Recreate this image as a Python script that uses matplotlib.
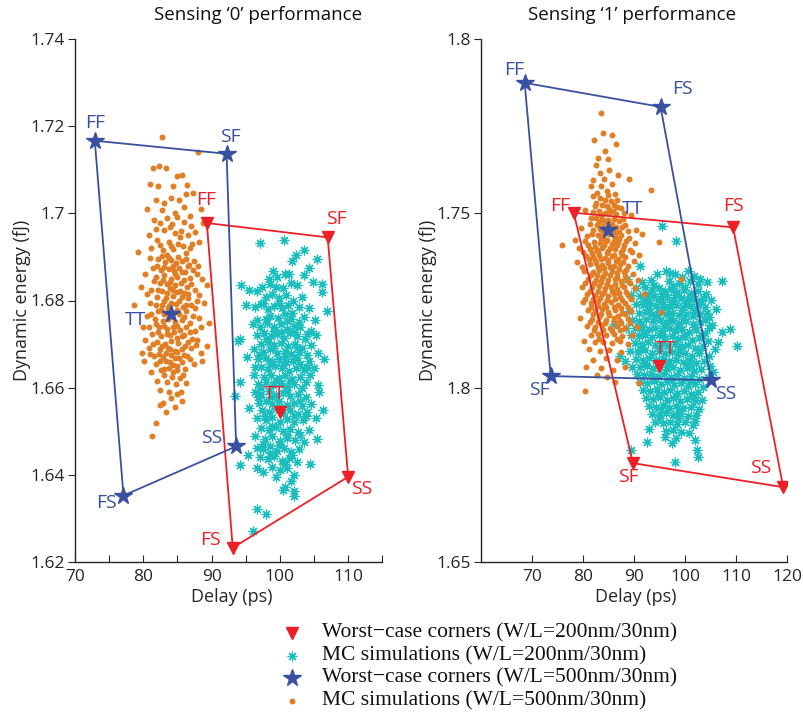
import matplotlib
matplotlib.use("Agg")
import matplotlib.pyplot as plt
from matplotlib.lines import Line2D
import numpy as np

plt.rcParams['font.family'] = ['Open Sans', 'DejaVu Sans']

# ---------------- data ----------------
# Sensing '0' : worst-case corners
s0_corner_names = ['FF', 'SF', 'SS', 'FS']
s0_500_corner_delay = [72.9, 92.2, 93.6, 77.1]
s0_500_corner_energy = [1.7167, 1.7137, 1.6465, 1.6352]
s0_500_tt = (84.0, 1.6770)
s0_200_corner_delay = [89.3, 107.0, 110.0, 93.1]
s0_200_corner_energy = [1.6978, 1.6945, 1.6395, 1.6232]
s0_200_tt = (100.0, 1.6545)

# Sensing '1' : worst-case corners
s1_corner_names = ['FF', 'FS', 'SS', 'SF']
s1_500_corner_delay = [68.6, 95.2, 105.1, 73.7]
s1_500_corner_energy = [1.7875, 1.7806, 1.7021, 1.7033]
s1_500_tt = (84.9, 1.7453)
s1_200_corner_delay = [78.2, 109.4, 119.2, 89.8]
s1_200_corner_energy = [1.7502, 1.7460, 1.6714, 1.6783]
s1_200_tt = (94.8, 1.7062)

# MC simulations, Sensing '0', W/L=500nm/30nm (delay ps, energy fJ)
mc_s0_500 = [
 (82.7,1.7175),(88.0,1.7140),(81.4,1.7105),(82.3,1.7110),(83.3,1.7105),(85.6,1.7088),(84.9,1.7085),(81.0,1.7067),
 (84.4,1.7062),(82.2,1.7063),(86.4,1.7065),(86.2,1.7044),(81.9,1.7030),(84.0,1.7035),(80.5,1.7010),(83.1,1.7023),
 (85.2,1.7030),(87.3,1.7048),(82.8,1.7007),(86.0,1.7015),(88.4,1.7010),(84.6,1.7002),
 (81.6,1.6985),(82.4,1.6978),(83.4,1.6990),(84.2,1.6975),(85.0,1.6992),(85.9,1.6980),(86.8,1.6995),(88.7,1.6978),
 (89.1,1.6985),(83.0,1.6962),(84.7,1.6955),(80.8,1.6950),(82.0,1.6940),(83.8,1.6935),(85.4,1.6945),(86.5,1.6950),
 (87.6,1.6958),(81.2,1.6920),(82.9,1.6915),(84.3,1.6918),(85.8,1.6925),(87.1,1.6930),(83.5,1.6905),(86.2,1.6908),
 (79.2,1.6912),
 (82.1,1.6895),(83.2,1.6888),(84.0,1.6892),(84.8,1.6885),(85.6,1.6890),(86.7,1.6882),(88.0,1.6880),(81.4,1.6875),
 (82.6,1.6870),(83.7,1.6872),(84.5,1.6868),(85.3,1.6875),(86.1,1.6865),(87.3,1.6870),(80.3,1.6860),(81.9,1.6855),
 (83.0,1.6858),(84.1,1.6850),(85.0,1.6855),(85.9,1.6848),(86.9,1.6852),(88.6,1.6850),(82.4,1.6840),(83.5,1.6838),
 (84.6,1.6835),(85.5,1.6840),(86.4,1.6832),(81.2,1.6825),(82.8,1.6822),(83.9,1.6828),(84.9,1.6820),(86.0,1.6818),
 (87.5,1.6825),(79.6,1.6830),(82.0,1.6808),(83.3,1.6805),(84.3,1.6810),(85.3,1.6800),(86.6,1.6805),(81.0,1.6795),
 (82.7,1.6790),(83.8,1.6788),(84.8,1.6792),(85.8,1.6785),(87.0,1.6790),(88.9,1.6795),(82.2,1.6775),(83.1,1.6770),
 (84.2,1.6772),(85.2,1.6768),(86.3,1.6775),(80.6,1.6765),(81.7,1.6758),(82.9,1.6752),(83.6,1.6758),(84.7,1.6750),
 (85.7,1.6755),(86.8,1.6748),(88.1,1.6760),(82.3,1.6738),(83.4,1.6735),(84.4,1.6740),(85.4,1.6732),(86.2,1.6738),
 (87.6,1.6730),(81.3,1.6722),(82.6,1.6718),(83.9,1.6720),(84.9,1.6715),(86.0,1.6720),(80.2,1.6710),(82.0,1.6705),
 (83.2,1.6700),(84.1,1.6708),(85.1,1.6702),(86.5,1.6705),(87.9,1.6710),(89.3,1.6695),(78.7,1.6790),(89.4,1.6835),
 (80.8,1.6690),(82.5,1.6688),(83.6,1.6692),(84.6,1.6685),(85.6,1.6688),(87.0,1.6690),(88.5,1.6680),(81.6,1.6672),
 (82.9,1.6670),(84.0,1.6675),(85.2,1.6668),(86.4,1.6672),(80.1,1.6660),(81.9,1.6655),(83.3,1.6660),(84.4,1.6652),
 (85.7,1.6658),(87.4,1.6655),(82.6,1.6640),(83.8,1.6645),(84.9,1.6640),(86.1,1.6642),(81.2,1.6635),(83.0,1.6628),
 (84.2,1.6625),(85.4,1.6622),(82.0,1.6615),(83.5,1.6612),(84.8,1.6608),(86.3,1.6610),
 (82.4,1.6595),(83.7,1.6590),(85.0,1.6585),(84.1,1.6575),(82.9,1.6565),(85.6,1.6568),(84.6,1.6555),(83.3,1.6545),
 (82.5,1.6560),(81.9,1.6518),(81.3,1.6488),(85.5,1.6590),
 (81.8,1.6965),(83.9,1.6968),(85.5,1.6960),(87.0,1.6972),(82.5,1.6928),(84.0,1.6925),(85.1,1.6930),(86.8,1.6920),
 (88.2,1.6935),(81.0,1.6898),(82.7,1.6902),(83.7,1.6898),(85.1,1.6900),(86.3,1.6895),(87.4,1.6890),(82.0,1.6880),
 (83.1,1.6878),(84.3,1.6880),(85.6,1.6865),(86.5,1.6880),(87.9,1.6862),(81.5,1.6845),(82.9,1.6848),(83.9,1.6842),
 (84.7,1.6862),(85.4,1.6822),(87.0,1.6838),(88.1,1.6812),(80.6,1.6815),(82.1,1.6825),(83.4,1.6818),(84.4,1.6825),
 (86.6,1.6815),(87.8,1.6800),(81.8,1.6790),(83.0,1.6798),(84.1,1.6795),(85.6,1.6808),(86.2,1.6790),(87.6,1.6782),
 (81.2,1.6770),(82.6,1.6778),(83.6,1.6782),(84.9,1.6778),(86.0,1.6762),(87.3,1.6765),(81.9,1.6745),(83.0,1.6742),
 (84.0,1.6762),(85.0,1.6742),(86.9,1.6728),(88.4,1.6740),(80.9,1.6740),(82.2,1.6728),(83.5,1.6722),(84.5,1.6728),
 (85.6,1.6718),(87.1,1.6712),(81.4,1.6700),(82.7,1.6695),(83.9,1.6688),(85.0,1.6682),(86.1,1.6695),(87.7,1.6698),
 (82.3,1.6678),(83.3,1.6680),(84.7,1.6668),(85.9,1.6675),(81.0,1.6678),(86.9,1.6665),(82.4,1.6660),(83.9,1.6658),
 (85.0,1.6650),(83.0,1.6642),(84.3,1.6635),(85.8,1.6630),(88.6,1.6660),(79.8,1.6680),(89.6,1.6748),(80.0,1.6738),
]

# MC simulations, Sensing '0', W/L=200nm/30nm
mc_s0_200 = [
 (97.1,1.6932),(100.6,1.6940),(102.3,1.6905),(103.5,1.6915),(101.8,1.6890),(104.2,1.6875),(105.4,1.6895),(106.1,1.6838),
 (106.2,1.6820),(103.6,1.6858),(99.0,1.6868),(99.6,1.6855),(98.4,1.6850),(100.8,1.6860),(104.8,1.6842),(101.3,1.6862),
 (94.3,1.6835),(95.5,1.6825),(96.6,1.6822),(97.4,1.6830),(98.6,1.6838),(99.5,1.6832),(100.4,1.6828),(101.6,1.6840),
 (102.5,1.6835),(97.9,1.6808),(98.9,1.6815),(99.8,1.6805),(100.9,1.6812),(101.9,1.6800),(103.3,1.6808),(95.0,1.6790),
 (96.3,1.6785),(97.3,1.6792),(98.2,1.6780),(99.2,1.6788),(100.3,1.6782),(101.2,1.6790),(102.8,1.6785),(104.3,1.6782),
 (106.9,1.6776),(98.6,1.6765),(99.7,1.6760),(100.7,1.6768),(101.7,1.6758),(103.6,1.6762),(96.6,1.6755),(105.2,1.6755),
 (94.1,1.6712),(93.9,1.6707),(96.0,1.6745),(97.1,1.6740),(98.1,1.6748),(99.1,1.6738),(100.1,1.6745),(101.0,1.6735),
 (102.0,1.6742),(103.0,1.6738),(104.5,1.6730),(96.7,1.6720),(97.7,1.6725),(98.7,1.6718),(99.6,1.6722),(100.6,1.6715),
 (101.5,1.6725),(102.5,1.6718),(103.7,1.6712),(105.3,1.6720),(97.2,1.6700),(98.2,1.6705),(99.2,1.6698),(100.2,1.6702),
 (101.2,1.6695),(102.2,1.6700),(103.2,1.6690),(104.6,1.6698),(96.2,1.6688),(97.6,1.6682),(98.6,1.6688),(99.6,1.6680),
 (100.7,1.6685),(101.7,1.6678),(102.8,1.6682),(104.0,1.6675),(105.6,1.6680),(95.2,1.6670),(96.8,1.6665),(97.9,1.6668),
 (98.9,1.6660),(99.9,1.6665),(100.9,1.6658),(101.9,1.6662),(103.0,1.6655),(104.3,1.6660),(106.5,1.6665),(97.3,1.6648),
 (98.3,1.6642),(99.3,1.6650),(100.3,1.6645),(101.4,1.6638),(102.4,1.6645),(103.6,1.6640),(105.0,1.6645),(96.2,1.6630),
 (97.7,1.6625),(98.7,1.6630),(99.8,1.6622),(100.8,1.6628),(101.8,1.6620),(102.9,1.6625),(104.4,1.6628),(94.1,1.6612),
 (96.8,1.6608),(97.9,1.6612),(99.0,1.6605),(100.1,1.6610),(101.1,1.6602),(102.1,1.6608),(103.3,1.6600),(105.6,1.6605),
 (93.4,1.6580),(96.3,1.6590),(97.3,1.6585),(98.4,1.6592),(99.4,1.6582),(100.5,1.6588),(101.5,1.6580),(102.6,1.6585),
 (103.8,1.6578),(105.7,1.6590),(96.9,1.6565),(97.9,1.6570),(98.9,1.6562),(99.9,1.6568),(101.0,1.6560),(102.0,1.6565),
 (103.2,1.6558),(104.6,1.6562),(95.5,1.6552),(97.4,1.6548),(98.4,1.6545),(99.4,1.6552),(100.5,1.6542),(101.5,1.6548),
 (102.6,1.6540),(104.0,1.6545),(106.3,1.6548),(96.6,1.6530),(97.9,1.6525),(98.9,1.6532),(100.0,1.6522),(101.0,1.6528),
 (102.1,1.6520),(103.4,1.6525),(105.3,1.6530),(97.3,1.6508),(98.4,1.6502),(99.4,1.6510),(100.5,1.6500),(101.5,1.6505),
 (102.7,1.6498),(104.2,1.6502),(96.4,1.6488),(97.8,1.6482),(98.9,1.6488),(100.0,1.6478),(101.0,1.6485),(102.2,1.6480),
 (103.5,1.6475),(105.4,1.6482),
 (95.3,1.6446),(94.1,1.6423),(96.6,1.6462),(97.6,1.6458),(98.6,1.6465),(99.6,1.6455),(100.6,1.6462),(101.6,1.6452),
 (102.8,1.6458),(97.1,1.6440),(98.2,1.6435),(99.2,1.6442),(100.3,1.6432),(101.4,1.6438),(102.5,1.6430),(104.4,1.6425),
 (98.9,1.6418),(100.0,1.6410),(101.1,1.6415),(102.0,1.6400),(96.6,1.6415),(99.5,1.6395),(101.6,1.6385),(100.7,1.6372),
 (102.0,1.6362),(96.1,1.6270),(96.6,1.6320),(98.0,1.6310),(100.5,1.6365),(102.0,1.6350),(97.5,1.6405),
 (97.6,1.6795),(99.8,1.6795),(101.8,1.6772),(97.9,1.6758),(99.2,1.6730),(101.1,1.6752),(102.8,1.6750),(98.0,1.6712),
 (100.1,1.6728),(102.1,1.6728),(104.0,1.6722),(97.0,1.6675),(99.0,1.6692),(100.8,1.6672),(102.5,1.6690),(96.4,1.6648),
 (98.5,1.6655),(100.4,1.6652),(102.5,1.6668),(104.0,1.6648),(97.2,1.6598),(99.4,1.6615),(101.5,1.6615),(103.8,1.6612),
 (96.8,1.6578),(98.9,1.6578),(101.0,1.6595),(103.0,1.6570),(97.8,1.6535),(99.9,1.6555),(102.0,1.6535),(103.8,1.6535),
 (98.9,1.6512),(101.0,1.6492),(103.0,1.6490),(97.6,1.6470),(99.8,1.6468),(101.8,1.6445),(98.5,1.6450),(100.8,1.6425),
]

# MC simulations, Sensing '1', W/L=500nm/30nm
mc_s1_500 = [
 (83.6,1.7787),(84.0,1.7730),(85.7,1.7725),(82.1,1.7711),(84.4,1.7680),(86.5,1.7700),(83.0,1.7660),(84.9,1.7655),
 (82.5,1.7640),(85.2,1.7625),(83.4,1.7615),(86.8,1.7610),(82.0,1.7595),(84.1,1.7600),(89.0,1.7598),(81.6,1.7578),
 (83.6,1.7580),(85.6,1.7585),(84.7,1.7565),(82.7,1.7560),(93.3,1.7566),(86.2,1.7555),(81.9,1.7550),(85.0,1.7552),
 (83.3,1.7545),(84.3,1.7540),(85.5,1.7535),(86.6,1.7540),(82.5,1.7530),(83.8,1.7525),(84.8,1.7520),(86.0,1.7525),
 (87.4,1.7515),(80.5,1.7510),(81.9,1.7505),(83.1,1.7508),(84.3,1.7500),(85.4,1.7505),(86.5,1.7498),(88.0,1.7502),
 (89.5,1.7495),(82.6,1.7488),(83.7,1.7485),(84.9,1.7480),(86.0,1.7485),(87.1,1.7478),(81.3,1.7470),(82.8,1.7468),
 (84.0,1.7465),(85.2,1.7470),(86.5,1.7462),(88.3,1.7468),(79.6,1.7458),(83.3,1.7455),(84.6,1.7450),(85.8,1.7455),
 (87.0,1.7448),(90.3,1.7452),
 (76.0,1.7408),(78.5,1.7425),(81.8,1.7440),(82.9,1.7438),(84.0,1.7435),(85.1,1.7440),(86.3,1.7432),(87.5,1.7438),
 (89.0,1.7430),(91.5,1.7440),(80.4,1.7420),(82.2,1.7418),(83.4,1.7415),(84.5,1.7420),(85.7,1.7412),(86.8,1.7418),
 (88.0,1.7410),(94.8,1.7417),(79.3,1.7400),(81.4,1.7398),(82.7,1.7395),(83.8,1.7400),(85.0,1.7392),(86.2,1.7398),
 (87.4,1.7390),(89.2,1.7395),(80.7,1.7378),(82.0,1.7375),(83.2,1.7380),(84.4,1.7372),(85.6,1.7378),(86.8,1.7370),
 (88.2,1.7375),(91.0,1.7380),(78.8,1.7360),(81.4,1.7355),(82.6,1.7358),(83.8,1.7352),(85.0,1.7358),(86.1,1.7350),
 (87.3,1.7355),(88.8,1.7348),(80.3,1.7335),(82.0,1.7332),(83.2,1.7338),(84.4,1.7330),(85.6,1.7335),(86.7,1.7328),
 (88.0,1.7332),(89.8,1.7325),(81.0,1.7312),(82.6,1.7310),(83.8,1.7315),(85.0,1.7308),(86.2,1.7312),(87.4,1.7305),
 (88.7,1.7310),(99.2,1.7312),(79.8,1.7290),(81.8,1.7288),(83.1,1.7292),(84.3,1.7285),(85.5,1.7290),(86.7,1.7282),
 (88.0,1.7288),(90.2,1.7285),(80.9,1.7268),(82.4,1.7265),(83.7,1.7270),(84.9,1.7262),(86.1,1.7268),(87.3,1.7260),
 (88.8,1.7265),(92.0,1.7270),
 (80.0,1.7245),(81.6,1.7242),(82.9,1.7248),(84.2,1.7240),(85.5,1.7245),(86.8,1.7238),(88.2,1.7242),(95.2,1.7217),
 (81.0,1.7222),(82.4,1.7220),(83.7,1.7225),(85.0,1.7218),(86.3,1.7222),(87.7,1.7215),(89.4,1.7220),(79.4,1.7200),
 (81.8,1.7198),(83.2,1.7202),(84.6,1.7195),(86.0,1.7200),(87.3,1.7192),(88.8,1.7198),(80.8,1.7178),(82.3,1.7175),
 (83.8,1.7180),(85.3,1.7172),(86.7,1.7178),(88.3,1.7170),(90.5,1.7175),(81.5,1.7152),(83.0,1.7155),(84.5,1.7150),
 (86.0,1.7155),(87.7,1.7148),(89.6,1.7152),(80.3,1.7135),(82.3,1.7130),(84.0,1.7132),(85.6,1.7128),(87.2,1.7135),
 (88.9,1.7125),
 (81.2,1.7110),(83.3,1.7105),(85.2,1.7108),(87.5,1.7102),(82.0,1.7080),(84.5,1.7085),(86.6,1.7078),(80.6,1.7060),
 (83.6,1.7055),(85.9,1.7050),(88.2,1.7058),(82.7,1.7035),(84.8,1.7030),(80.5,1.6990),(86.2,1.7015),(90.9,1.7014),
 (82.3,1.7520),(85.1,1.7512),(86.7,1.7518),(83.6,1.7495),(85.9,1.7508),(87.8,1.7485),(81.6,1.7488),(83.1,1.7475),
 (84.4,1.7478),(85.7,1.7470),(87.6,1.7460),(82.0,1.7452),(84.0,1.7448),(86.3,1.7445),(88.9,1.7450),(80.9,1.7435),
 (83.5,1.7428),(84.8,1.7425),(86.0,1.7420),(87.1,1.7428),(88.5,1.7420),(90.1,1.7415),(81.0,1.7410),(82.4,1.7405),
 (84.1,1.7408),(85.4,1.7402),(86.6,1.7408),(87.9,1.7398),(80.1,1.7390),(81.7,1.7385),(83.0,1.7388),(84.8,1.7385),
 (86.0,1.7382),(87.7,1.7382),(89.6,1.7388),(81.1,1.7368),(82.4,1.7365),(83.6,1.7368),(84.9,1.7365),(86.5,1.7362),
 (87.9,1.7360),(90.0,1.7362),(79.9,1.7345),(82.9,1.7345),(84.1,1.7342),(85.4,1.7345),(87.0,1.7340),(88.5,1.7338),
 (81.5,1.7322),(82.8,1.7322),(84.0,1.7320),(85.3,1.7322),(86.6,1.7318),(88.2,1.7320),(90.8,1.7310),(80.5,1.7300),
 (82.1,1.7300),(83.5,1.7302),(84.8,1.7298),(86.2,1.7298),(87.6,1.7295),(89.2,1.7300),(81.3,1.7278),(82.9,1.7278),
 (84.2,1.7275),(85.6,1.7278),(87.0,1.7272),(88.5,1.7275),(80.4,1.7255),(81.9,1.7255),(83.4,1.7258),(84.8,1.7252),
 (86.2,1.7255),(87.6,1.7250),(89.5,1.7255),(81.5,1.7232),(83.0,1.7235),(84.5,1.7230),(86.0,1.7232),(87.4,1.7228),
 (88.9,1.7232),(82.0,1.7210),(83.6,1.7210),(85.2,1.7208),(86.8,1.7205),(88.3,1.7210),(81.3,1.7188),(82.9,1.7188),
 (84.4,1.7185),(86.0,1.7190),(87.5,1.7185),(89.3,1.7185),(82.2,1.7165),(84.0,1.7165),(85.7,1.7162),(87.2,1.7165),
 (83.2,1.7140),(86.6,1.7140),
]

# MC simulations, Sensing '1', W/L=200nm/30nm
mc_s1_200 = [
 (95.5,1.7464),(98.3,1.7421),(107.3,1.7307),(94.5,1.7326),(96.2,1.7335),(97.1,1.7330),(98.0,1.7325),(99.4,1.7318),
 (100.5,1.7335),(101.8,1.7320),(103.0,1.7312),(93.4,1.7310),(91.5,1.7302),(96.8,1.7305),(98.9,1.7300),(100.9,1.7305),
 (102.5,1.7298),(104.3,1.7302),(91.1,1.7350),(88.6,1.7312),
 (90.4,1.7285),(92.2,1.7288),(93.5,1.7280),(94.8,1.7285),(96.0,1.7278),(97.2,1.7282),(98.5,1.7275),(99.8,1.7280),
 (101.2,1.7272),(102.6,1.7278),(104.0,1.7270),(89.5,1.7265),(91.2,1.7262),(92.6,1.7258),(93.9,1.7262),(95.2,1.7255),
 (96.5,1.7260),(97.8,1.7252),(99.1,1.7258),(100.4,1.7250),(101.7,1.7255),(103.1,1.7248),(105.0,1.7252),(90.3,1.7240),
 (91.8,1.7238),(93.1,1.7242),(94.4,1.7235),(95.7,1.7240),(97.0,1.7232),(98.3,1.7238),(99.6,1.7230),(100.9,1.7235),
 (102.2,1.7228),(103.8,1.7232),(106.0,1.7225),(89.1,1.7220),(90.9,1.7215),(92.3,1.7218),(93.6,1.7212),(94.9,1.7218),
 (96.2,1.7210),(97.5,1.7215),(98.8,1.7208),(100.1,1.7212),(101.5,1.7205),(102.9,1.7210),(104.6,1.7202),(108.7,1.7169),
 (86.0,1.7182),
 (89.6,1.7195),(91.0,1.7192),(92.4,1.7198),(93.7,1.7190),(95.0,1.7195),(96.3,1.7188),(97.6,1.7192),(98.9,1.7185),
 (100.2,1.7190),(101.6,1.7182),(103.0,1.7188),(105.3,1.7180),(88.4,1.7172),(90.2,1.7170),(91.6,1.7175),(92.9,1.7168),
 (94.2,1.7172),(95.5,1.7165),(96.8,1.7170),(98.1,1.7162),(99.4,1.7168),(100.8,1.7160),(102.2,1.7165),(103.8,1.7158),
 (107.2,1.7160),(89.4,1.7150),(90.9,1.7148),(92.2,1.7152),(93.5,1.7145),(94.8,1.7150),(96.1,1.7142),(97.4,1.7148),
 (98.7,1.7140),(100.0,1.7145),(101.4,1.7138),(102.8,1.7142),(104.5,1.7135),(110.1,1.7120),(87.3,1.7090),(88.2,1.7075),
 (90.1,1.7128),(91.5,1.7125),(92.8,1.7130),(94.1,1.7122),(95.4,1.7128),(96.7,1.7120),(98.0,1.7125),(99.3,1.7118),
 (100.6,1.7122),(102.0,1.7115),(103.5,1.7120),(105.8,1.7112),(89.3,1.7105),(90.8,1.7102),(92.2,1.7108),(93.5,1.7100),
 (94.8,1.7105),(96.1,1.7098),(97.4,1.7102),(98.7,1.7095),(100.0,1.7100),(101.4,1.7092),(102.8,1.7098),(104.6,1.7090),
 (90.3,1.7082),(91.7,1.7080),(93.0,1.7085),(94.3,1.7078),(95.6,1.7082),(96.9,1.7075),(98.2,1.7080),(99.5,1.7072),
 (100.8,1.7078),(102.2,1.7070),(103.7,1.7075),(89.6,1.7060),(91.1,1.7058),(92.5,1.7062),(93.8,1.7055),(95.1,1.7060),
 (96.4,1.7052),(97.7,1.7058),(99.0,1.7050),(100.3,1.7055),(101.7,1.7048),(103.2,1.7052),(105.5,1.7045),(90.6,1.7038),
 (92.0,1.7035),(93.3,1.7040),(94.6,1.7032),(95.9,1.7038),(97.2,1.7030),(98.5,1.7035),(99.8,1.7028),(101.2,1.7032),
 (102.7,1.7025),(104.4,1.7030),(91.2,1.7015),(92.6,1.7012),(93.9,1.7018),(95.2,1.7010),(96.5,1.7015),(97.8,1.7008),
 (99.1,1.7012),(100.5,1.7005),(102.0,1.7010),(103.6,1.7002),(91.8,1.6992),(93.2,1.6990),(94.5,1.6995),(95.8,1.6988),
 (97.1,1.6992),(98.4,1.6985),(99.7,1.6990),(101.1,1.6982),(102.6,1.6988),
 (92.4,1.6970),(93.8,1.6968),(95.1,1.6972),(96.4,1.6965),(97.7,1.6970),(99.0,1.6962),(100.4,1.6968),(101.9,1.6960),
 (103.4,1.6965),(92.9,1.6948),(94.3,1.6945),(95.6,1.6950),(96.9,1.6942),(98.2,1.6948),(99.6,1.6940),(101.1,1.6945),
 (102.7,1.6938),(93.6,1.6925),(95.0,1.6922),(96.3,1.6928),(97.6,1.6920),(99.0,1.6925),(100.5,1.6918),(102.1,1.6922),
 (94.2,1.6900),(95.7,1.6898),(97.0,1.6902),(98.4,1.6895),(99.9,1.6900),(101.5,1.6892),(93.0,1.6880),(96.3,1.6875),
 (97.6,1.6878),(99.2,1.6872),(100.8,1.6870),(98.2,1.6855),(97.5,1.6840),(102.4,1.6821),(102.6,1.6800),(92.6,1.6845),
 (89.4,1.6821),(98.1,1.6785),(96.0,1.6858),(101.9,1.6850),
 (94.0,1.7295),(97.6,1.7292),(100.0,1.7290),(92.8,1.7270),(95.5,1.7268),(98.0,1.7265),(100.9,1.7262),(103.5,1.7258),
 (92.0,1.7248),(94.6,1.7250),(97.2,1.7245),(99.9,1.7242),(102.6,1.7240),(93.0,1.7225),(95.9,1.7228),(99.3,1.7222),
 (101.8,1.7218),(104.2,1.7215),(94.3,1.7205),(97.0,1.7200),(99.6,1.7198),(103.8,1.7195),(91.3,1.7180),(95.9,1.7178),
 (98.6,1.7175),(101.9,1.7175),(104.7,1.7170),(91.7,1.7158),(95.5,1.7155),(99.8,1.7152),(103.3,1.7150),(91.2,1.7112),
 (95.0,1.7115),(98.9,1.7110),(102.8,1.7108),(106.5,1.7130),(92.0,1.7070),(96.4,1.7068),(100.9,1.7065),(104.8,1.7062),
 (94.0,1.7025),(97.5,1.7022),(101.0,1.7020),(94.6,1.6978),(98.2,1.6975),(101.8,1.6972),(95.3,1.6935),(98.9,1.6932),
 (102.0,1.6905),(94.8,1.6912),(98.6,1.6912),
]

# axis ticks / labels
s0_xticks = [70, 75, 80, 85, 90, 95, 100, 105, 110, 115]
s0_xticklabels = ['70', '', '80', '', '90', '', '100', '', '110', '']
s0_yticks = [1.62, 1.64, 1.66, 1.68, 1.70, 1.72, 1.74]
s0_yticklabels = ['1.62', '1.64', '1.66', '1.68', '1.7', '1.72', '1.74']
s1_xticks = [70, 80, 90, 100, 110, 120]
s1_xticklabels = ['70', '80', '90', '100', '110', '120']
s1_yticks = [1.65, 1.70, 1.75, 1.80]
s1_yticklabels = ['1.65', '1.8', '1.75', '1.8']

legend_labels = ['Worst\u2212case corners (W/L=200nm/30nm)',
                 'MC simulations (W/L=200nm/30nm)',
                 'Worst\u2212case corners (W/L=500nm/30nm)',
                 'MC simulations (W/L=500nm/30nm)']

# ---------------- style ----------------
ORANGE = '#E17F27'
CYAN = '#1CBDBD'
BLUE = '#3A50A1'
RED = '#EE1F26'
AXC = '#262626'
AST = (8, 2, 0)
DOT_MS = 4.3
LBL_FS = 14

fig = plt.figure(figsize=(8.04, 7.15), dpi=100)
W, H = 804, 715


def px_axes(x0, y0, x1, y1):
    return fig.add_axes([x0 / W, 1 - y1 / H, (x1 - x0) / W, (y1 - y0) / H])


def draw(ax, mc200, mc500, c200x, c200y, tt200, c500x, c500y, tt500,
         names, off200, off500, tt_off200, tt_off500, xlab_x):
    x, y = zip(*mc200)
    ax.plot(x, y, ls='none', marker=AST, ms=7, mew=0.9, color=CYAN, zorder=2)
    x, y = zip(*mc500)
    ax.plot(x, y, ls='none', marker='o', ms=DOT_MS, mew=0, color=ORANGE, zorder=3)
    # polygons
    ax.plot(list(c200x) + [c200x[0]], list(c200y) + [c200y[0]], color=RED, lw=1.3, zorder=4)
    ax.plot(list(c500x) + [c500x[0]], list(c500y) + [c500y[0]], color=BLUE, lw=1.3, zorder=4)
    ax.plot(c200x, c200y, ls='none', marker='v', ms=9, color=RED, zorder=5)
    ax.plot(c500x, c500y, ls='none', marker='*', ms=13, color=BLUE, zorder=5)
    ax.plot([tt200[0]], [tt200[1]], ls='none', marker='v', ms=9, color=RED, zorder=5)
    ax.plot([tt500[0]], [tt500[1]], ls='none', marker='*', ms=13, color=BLUE, zorder=5)
    for n, xx, yy, o in zip(names, c200x, c200y, off200):
        ax.annotate(n, (xx, yy), xytext=o, textcoords='offset pixels', ha='center', va='center',
                    color=RED, fontsize=LBL_FS, zorder=6)
    for n, xx, yy, o in zip(names, c500x, c500y, off500):
        ax.annotate(n, (xx, yy), xytext=o, textcoords='offset pixels', ha='center', va='center',
                    color=BLUE, fontsize=LBL_FS, zorder=6)
    ax.annotate('TT', tt200, xytext=tt_off200, textcoords='offset pixels', ha='center', va='center',
                color=RED, fontsize=LBL_FS, zorder=6)
    ax.annotate('TT', tt500, xytext=tt_off500, textcoords='offset pixels', ha='center', va='center',
                color=BLUE, fontsize=LBL_FS, zorder=6)
    for s in ['top', 'right']:
        ax.spines[s].set_visible(False)
    for s in ['left', 'bottom']:
        ax.spines[s].set_color(AXC)
        ax.spines[s].set_linewidth(1.0)
    ax.tick_params(axis='x', direction='in', length=5, colors=AXC, labelsize=12.5, pad=5)
    ax.tick_params(axis='y', direction='out', length=5, colors=AXC, labelsize=12.5, pad=2)
    ax.set_xlabel('Delay (ps)', fontsize=13, color=AXC, va='center')
    ax.xaxis.set_label_coords(xlab_x, -0.0676)
    ax.set_ylabel('Dynamic energy (fJ)', fontsize=13, color=AXC, va='center')
    ax.yaxis.set_label_coords(-0.172, 0.5)
    ax.patch.set_alpha(0)


ax0 = px_axes(75, 39.3, 382.3, 561.7)
draw(ax0, mc_s0_200, mc_s0_500, s0_200_corner_delay, s0_200_corner_energy, s0_200_tt,
     s0_500_corner_delay, s0_500_corner_energy, s0_500_tt, s0_corner_names,
     off200=[(-1, 23), (9, 18), (14, -12), (-22, 8)],
     off500=[(0, 18), (4, 17), (-24, 8), (-17, -7)],
     tt_off200=(-5, 18), tt_off500=(-35, -6), xlab_x=0.51)
ax0.set_xlim(70, 115)
ax0.set_ylim(1.62, 1.74)
ax0.set_xticks(s0_xticks)
ax0.set_xticklabels(s0_xticklabels)
ax0.set_yticks(s0_yticks)
ax0.set_yticklabels(s0_yticklabels)

ax1 = px_axes(480.7, 39.3, 787.3, 561.7)
draw(ax1, mc_s1_200, mc_s1_500, s1_200_corner_delay, s1_200_corner_energy, s1_200_tt,
     s1_500_corner_delay, s1_500_corner_energy, s1_500_tt, s1_corner_names,
     off200=[(-14, 7), (0, 21), (-23, 19), (-5, -14)],
     off500=[(-11, 13), (22, 18), (15, -14), (-11, -14)],
     tt_off200=(7, 17), tt_off500=(25, 21), xlab_x=0.5065)
ax1.set_xlim(60, 120)
ax1.set_ylim(1.65, 1.80)
ax1.set_xticks(s1_xticks)
ax1.set_xticklabels(s1_xticklabels)
ax1.set_yticks(s1_yticks)
ax1.set_yticklabels(s1_yticklabels)

fig.text(258 / W, 1 - 15 / H, 'Sensing \u20180\u2019 performance', ha='center', va='center',
         fontsize=13.5, color='#111111')
fig.text(632 / W, 1 - 15 / H, 'Sensing \u20181\u2019 performance', ha='center', va='center',
         fontsize=13.5, color='#111111')

# legend (manual layout)
leg_markers = [dict(marker='v', ms=9, color=RED),
               dict(marker=AST, ms=7, mew=0.9, color=CYAN),
               dict(marker='*', ms=13, color=BLUE),
               dict(marker='o', ms=DOT_MS, mew=0, color=ORANGE)]
rows_y = [633, 655.5, 678, 700.5]
for lab, mk, yy in zip(legend_labels, leg_markers, rows_y):
    fig.add_artist(Line2D([292 / W], [1 - yy / H], transform=fig.transFigure, ls='none', **mk))
    fig.text(322 / W, 1 - yy / H, lab, ha='left', va='center', fontsize=15.5,
             family=['Liberation Serif', 'DejaVu Serif'], color='#111111')

fig.savefig('out.png', dpi=100)
